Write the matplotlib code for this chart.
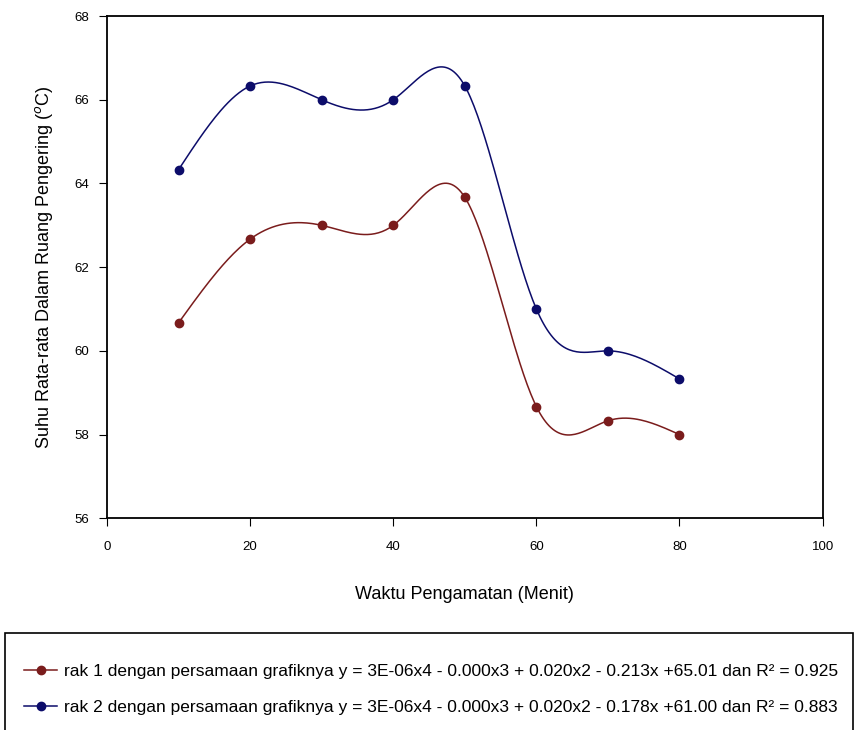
import numpy as np
import matplotlib.pyplot as plt
from matplotlib.patches import Rectangle

plt.rcParams['font.family'] = ['Liberation Sans', 'DejaVu Sans']

waktu = [10, 20, 30, 40, 50, 60, 70, 80]
rak1 = [60.67, 62.67, 63.0, 63.0, 63.67, 58.67, 58.33, 58.0]
rak2 = [64.33, 66.33, 66.0, 66.0, 66.33, 61.0, 60.0, 59.33]
label1 = "rak 1 dengan persamaan grafiknya y = 3E-06x4 - 0.000x3 + 0.020x2 - 0.213x +65.01 dan R² = 0.925"
label2 = "rak 2 dengan persamaan grafiknya y = 3E-06x4 - 0.000x3 + 0.020x2 - 0.178x +61.00 dan R² = 0.883"


def smooth(x, y, n=40):
    # natural cubic spline through the points
    x = np.asarray(x, float)
    y = np.asarray(y, float)
    k = len(x)
    h = np.diff(x)
    A = np.zeros((k, k))
    b = np.zeros(k)
    A[0, 0] = A[-1, -1] = 1
    for i in range(1, k - 1):
        A[i, i - 1] = h[i - 1]
        A[i, i] = 2 * (h[i - 1] + h[i])
        A[i, i + 1] = h[i]
        b[i] = 6 * ((y[i + 1] - y[i]) / h[i] - (y[i] - y[i - 1]) / h[i - 1])
    m = np.linalg.solve(A, b)
    xs, ys = [], []
    for i in range(k - 1):
        t = np.linspace(x[i], x[i + 1], n)
        a = x[i + 1] - t
        c = t - x[i]
        s = (m[i] * a ** 3 + m[i + 1] * c ** 3) / (6 * h[i]) \
            + (y[i] / h[i] - m[i] * h[i] / 6) * a \
            + (y[i + 1] / h[i] - m[i + 1] * h[i] / 6) * c
        xs.extend(t)
        ys.extend(s)
    return xs, ys


fig = plt.figure(figsize=(8.56, 7.30), dpi=100)
ax = fig.add_axes([0.125, 0.290, 0.836, 0.688])

c1 = '#7a1c1c'
c2 = '#0c0c6a'
for y, c, lab in ((rak1, c1, label1), (rak2, c2, label2)):
    sx, sy = smooth(waktu, y)
    ax.plot(sx, sy, color=c, lw=1.1)
    ax.plot(waktu, y, 'o', color=c, ms=6)
    ax.plot([], [], '-o', color=c, ms=6, lw=1.1, label=lab)

ax.set_xlim(0, 100)
ax.set_ylim(56, 68)
ax.set_xticks(range(0, 101, 20))
ax.set_yticks(range(56, 69, 2))
ax.tick_params(direction='out', length=6, labelsize=9.5, top=False, right=False)
ax.tick_params(axis='x', pad=10)
ax.tick_params(axis='y', pad=7)
for s in ax.spines.values():
    s.set_linewidth(1.3)
ax.set_xlabel('Waktu Pengamatan (Menit)', fontsize=13, labelpad=24)
ax.set_ylabel('Suhu Rata-rata Dalam Ruang Pengering ($^{o}$C)', fontsize=13, labelpad=14)

fig.patches.append(Rectangle((0.006, -0.01), 0.99, 0.143, transform=fig.transFigure,
                             fill=False, edgecolor='black', lw=1.2))
fig.legend(loc='upper left', bbox_to_anchor=(0.010, 0.112), frameon=False,
           fontsize=12.5, handlelength=1.9, labelspacing=1.2, handletextpad=0.4)

fig.savefig('out.png', dpi=100)
